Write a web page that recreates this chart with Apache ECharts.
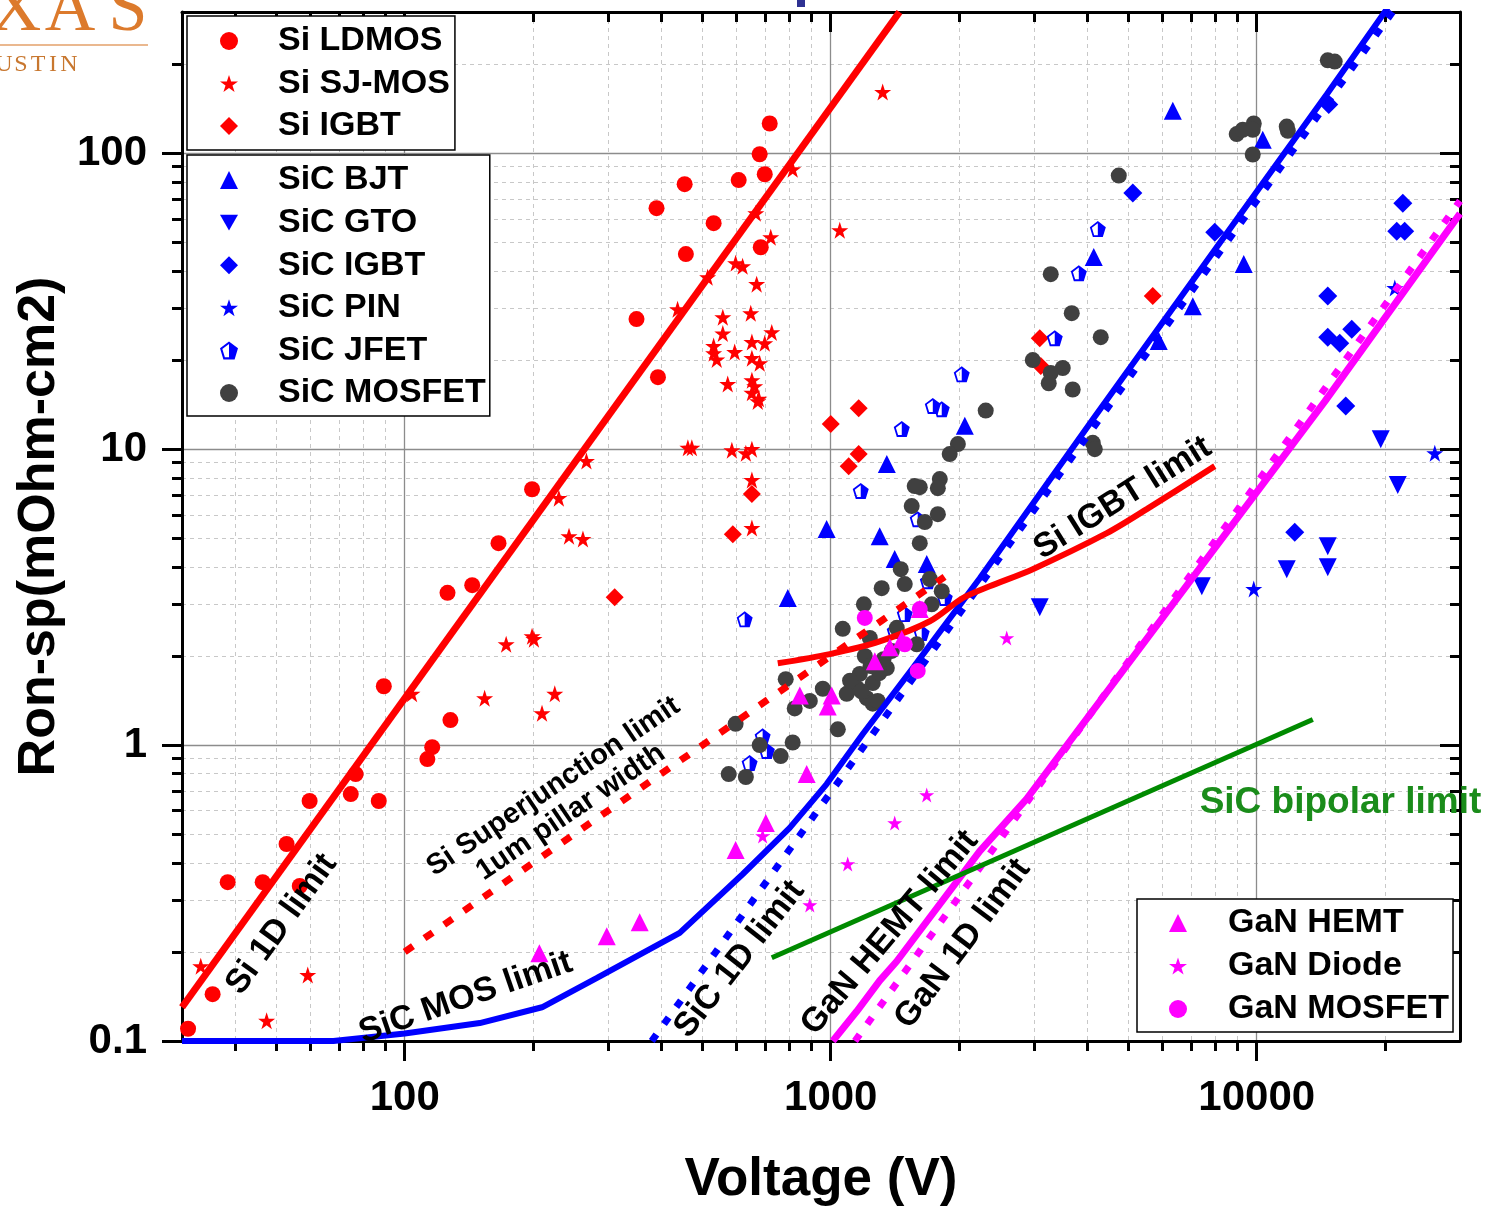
<!DOCTYPE html>
<html>
<head>
<meta charset="utf-8">
<title>Ron-sp vs breakdown voltage</title>
<script src="https://cdn.jsdelivr.net/npm/echarts@6/dist/echarts.min.js"></script>
<style>
html,body{margin:0;padding:0;background:#fff;}
#main{width:1488px;height:1206px;}
</style>
</head>
<body>
<div id="main"></div>
<script>
// axis ranges / ticks
var X_MIN = 30, X_MAX = 30000;
var Y_MIN = 0.1, Y_MAX = 300;
var xMajor = [100, 1000, 10000];
var xMinor = [40, 50, 60, 70, 80, 90, 200, 300, 400, 500, 600, 700, 800, 900,
	2000, 3000, 4000, 5000, 6000, 7000, 8000, 9000, 20000];
var yMajor = [0.1, 1, 10, 100];
var yMinor = [0.2, 0.3, 0.4, 0.5, 0.6, 0.7, 0.8, 0.9, 2, 3, 4, 5, 6, 7, 8, 9,
	20, 30, 40, 50, 60, 70, 80, 90, 200];

// devices  [voltage V, Ron-sp mOhm-cm2]
var siLdmos = [[31,0.110],[35.4,0.144],[38.4,0.344],[46.4,0.344],[56.7,0.334],[52.8,0.463],[59.8,0.647],
	[74.7,0.683],[76.7,0.798],[86.9,0.647],[89.3,1.58],[113,0.897],[116,0.984],[128,1.215],[126,3.27],
	[144,3.47],[166,4.81],[199,7.32],[350,27.5],[393,17.5],[390,65.2],[457,45.6],[454,78.6],[531,58],
	[608,81.1],[681,99.2],[685,48.1],[700,84.9],[719,126]];
var siSjMos = [[33.2,0.179],[47.4,0.117],[59.2,0.167],[104,1.49],[154,1.44],[173,2.19],[199,2.33],[201,2.28],
	[225,1.49],[210,1.28],[230,6.83],[243,5.08],[262,4.97],[267,9.11],[437,29.7],[462,10.1],[472,10.1],
	[514,38.1],[531,22.3],[531,21.1],[540,20.1],[558,27.9],[558,24.6],[573,16.6],[586,9.92],[595,21.3],
	[598,42.5],[621,41.5],[632,9.69],[649,28.8],[653,23.0],[653,20.3],[653,17.1],[653,15.5],[653,10.0],
	[653,7.86],[653,5.41],[663,16.3],[667,62.7],[670,36.1],[674,14.5],[678,14.8],[681,19.5],[700,22.8],
	[723,52.0],[727,24.8],[814,88.3],[1050,54.9],[1324,161]];
var siIgbt = [[311,3.16],[589,5.16],[653,7.05],[1000,12.15],[1163,13.75],[1102,8.76],[1163,9.62],
	[3095,23.7],[3112,19.1],[5700,32.9]];
var sicBjt = [[6352,139],[10330,111],[4143,44.6],[9322,42.2],[7077,30.4],[5888,23.2],[978,5.37],
	[793,3.14],[1354,8.9],[1303,5.08],[1413,4.25],[1680,4.09],[2064,12.0]];
var sicGto = [[19550,10.8],[21430,7.56],[11760,3.93],[14680,4.70],[14680,3.99],[7430,3.44],[3095,2.92]];
var sicIgbt = [[5117,73.3],[7970,54.1],[14760,146],[14680,32.9],[16710,25.4],[14680,23.9],[15660,22.8],
	[16180,14.0],[22020,67.8],[21310,54.5],[22250,54.5],[12280,5.24]];
var sicPin = [[26180,9.69],[9840,3.37],[21090,35.0]];
var sicJfet = [[4236,55.4],[3822,39.3],[3356,23.7],[2030,17.9],[1736,14.0],[1822,13.65],[1468,11.7],
	[1176,7.22],[1600,5.80],[1690,3.58],[1852,3.14],[1492,2.77],[1635,2.39],[1413,2.43],[628,2.66],
	[692,1.07],[708,0.955],[645,0.869]];
var sicMosfet = [[14680,206],[15240,204],[8974,116],[9272,120],[9840,126],[9786,120],[11760,123],
	[11830,119],[9786,99],[4744,84],[3284,39],[3679,28.8],[4303,23.9],[2980,20],[3504,18.8],[3284,18.1],
	[3249,16.7],[3698,15.9],[2311,13.5],[4122,10.5],[4167,10],[1988,10.4],[1902,9.62],[1803,7.92],
	[1784,7.38],[1618,7.44],[1574,7.5],[1549,6.42],[1784,6.03],[1663,5.67],[1618,4.81],[1460,3.93],
	[1492,3.5],[1317,3.39],[1708,3.64],[1822,3.31],[1726,2.99],[1196,2.99],[1067,2.47],[1235,2.3],
	[1429,2.49],[1592,2.19],[1202,2.0],[1391,2.08],[1354,1.82],[1170,1.74],[1255,1.62],[1151,1.56],
	[1090,1.49],[958,1.55],[893,1.41],[823,1.33],[784,1.67],[1215,1.44],[1255,1.38],[1289,1.41],
	[1039,1.13],[814,1.02],[763,0.918],[681,1.0],[598,1.18],[576,0.798],[632,0.78],
	[1300,1.75],[1110,1.65],[1180,1.52],[1330,1.95],[1240,1.85]];
var ganHemt = [[207,0.198],[298,0.226],[356,0.252],[598,0.442],[704,0.545],[846,1.47],[1005,1.47],
	[984,1.35],[878,0.798],[1269,1.92],[1376,2.14],[1468,2.28],[1618,2.88]];
var ganDiode = [[1680,0.678],[1413,0.545],[1096,0.396],[893,0.288],[692,0.493],[2589,2.30]];
var ganMosfet = [[1202,2.69],[1492,2.19],[1600,1.78],[1618,2.88]];

// theoretical limits
var si1dLimit = [[30,0.13],[1450,300]];
var siSjLimit = [[100,0.2],[1850,3.7]];
var sicMosLimit = [[30,0.1],[68,0.1],[100,0.106],[150,0.115],[210,0.13],[282,0.163],[442,0.232],
	[621,0.366],[801,0.525],[978,0.738],[1189,1.09],[1558,1.82],[2238,3.66],[4121,12.6],[14590,158],[20300,310]];
var sic1dLimit = [[380,0.1],[21000,305]];
var siIgbtLimit = [[751,1.89],[995,2.03],[1303,2.24],[1708,2.62],[2042,3.14],[2360,3.44],[2980,3.93],
	[4446,5.2],[5519,6.27],[7970,8.76]];
var ganHemtLimit = [[1011,0.1],[1151,0.126],[1303,0.16],[1429,0.186],[2238,0.438],[2884,0.658],
	[14450,14.5],[30000,62.5]];
var gan1dLimit = [[1140,0.1],[30000,69]];
var sicBipolarLimit = [[727,0.191],[13540,1.22]];

// limit labels: text, anchor [V, Ron], angle
var limitLabels = [
	['Si 1D limit', [51.4,0.248], 54],
	['Si Superjunction limit\n1um pillar width', [234,0.655], 34],
	['SiC MOS limit', [139,0.14], 19],
	['SiC 1D limit', [611,0.189], 52],
	['GaN HEMT limit', [1376,0.232], 50],
	['GaN 1D limit', [2042,0.213], 53],
	['Si IGBT limit', [4846,6.83], 32]
];

var FONT = '"Liberation Sans", Arial, Helvetica, sans-serif';
var RED = '#ff0000', BLUE = '#0000ff', MAG = '#ff00ff', GRAY = '#404040', GREEN = '#008a00';
var STAR = 'path://M50,0L61.8,35.3L99,35.3L68.9,57.1L80.4,92.7L50,70.6L19.6,92.7L31.1,57.1L1,35.3L38.2,35.3Z';
var PENTA = 'path://M50,0L100,38L81,100L19,100L0,38Z M50,14L13,42L27,88L73,88L87,42Z M50,14L87,42L73,88L50,88Z';
var DOWN = 'path://M0,0L100,0L50,86.6Z';

function scatter(name, data, symbol, size, color, z){
	return {
		name: name, type: 'scatter', data: data,
		symbol: symbol, symbolSize: size,
		itemStyle: {color: color, opacity: 1},
		z: z, silent: true
	};
}
function limit(data, color, width, dash, smooth){
	return {
		type: 'line', data: data, symbol: 'none', showSymbol: false,
		smooth: smooth || false, silent: true, z: 3,
		lineStyle: {color: color, width: width, type: dash || 'solid', cap: 'butt'}
	};
}

function xAxis(position, ticks, len, inside, major){
	return {
		type: 'log', logBase: 10, min: X_MIN, max: X_MAX, position: position,
		axisLine: {show: major, onZero: false, lineStyle: {color: '#000', width: 3}},
		axisTick: {show: true, inside: inside, length: len, customValues: ticks,
			lineStyle: {color: '#000', width: 3}},
		axisLabel: {show: false},
		splitLine: {show: false},
		minorTick: {show: false}
	};
}
function yAxis(position, ticks, len, inside, major){
	return {
		type: 'log', logBase: 10, min: Y_MIN, max: Y_MAX, position: position,
		axisLine: {show: major, onZero: false, lineStyle: {color: '#000', width: 3}},
		axisTick: {show: true, inside: inside, length: len, customValues: ticks,
			lineStyle: {color: '#000', width: 3}},
		axisLabel: {show: false},
		splitLine: {show: false},
		minorTick: {show: false}
	};
}

var xs = [xAxis('bottom', xMajor, 20, false, true), xAxis('bottom', xMinor, 10, false, false),
	xAxis('top', xMajor, 20, true, true), xAxis('top', xMinor, 10, true, false)];
var ys = [yAxis('left', yMajor, 20, false, true), yAxis('left', yMinor, 10, false, false),
	yAxis('right', yMajor, 20, true, true), yAxis('right', yMinor, 10, true, false)];

xs[0].axisLabel = {show: true, customValues: xMajor, margin: 36, color: '#000',
	fontFamily: FONT, fontSize: 42, fontWeight: 'bold',
	formatter: function(v){ return String(Math.round(v)); }};
xs[0].splitLine = {show: true, lineStyle: {color: '#8c8c8c', width: 1.3}};
xs[1].splitLine = {show: true, lineStyle: {color: '#c8c8c8', width: 1, type: [4, 4]}};
xs[0].name = 'Voltage (V)';
xs[0].nameLocation = 'middle';
xs[0].nameGap = 113;
xs[0].nameTextStyle = {color: '#000', fontFamily: FONT, fontSize: 53, fontWeight: 'bold'};

ys[0].axisLabel = {show: true, customValues: yMajor, margin: 35, color: '#000',
	fontFamily: FONT, fontSize: 42, fontWeight: 'bold',
	formatter: function(v){ return String(+v.toPrecision(6)); }};
ys[0].splitLine = {show: true, lineStyle: {color: '#8c8c8c', width: 1.3}};
ys[1].splitLine = {show: true, lineStyle: {color: '#c8c8c8', width: 1, type: [4, 4]}};
ys[0].name = 'Ron-sp(mOhm-cm2)';
ys[0].nameLocation = 'middle';
ys[0].nameGap = 114;
ys[0].nameTextStyle = {color: '#000', fontFamily: FONT, fontSize: 52, fontWeight: 'bold'};

function legendBox(names, left, top, gap, padding, textPad){
	return {
		data: names, orient: 'vertical', left: left, top: top,
		itemWidth: 18, itemHeight: 18, itemGap: gap, padding: padding,
		borderColor: '#000', borderWidth: 1.5, backgroundColor: '#fff',
		selectedMode: false, z: 6,
		textStyle: {color: '#000', fontFamily: FONT, fontSize: 34, fontWeight: 'bold',
			lineHeight: 34, padding: [0, 0, 0, textPad]}
	};
}

var option = {
	animation: false,
	backgroundColor: '#fff',
	grid: {left: 182, right: 28, top: 12, bottom: 165, containLabel: false, outerBoundsMode: 'none'},
	xAxis: xs,
	yAxis: ys,
	legend: [
		legendBox(['Si LDMOS', 'Si SJ-MOS', 'Si IGBT'], 187, 16, 8.5, [8, 5, 7, 33], 35),
		legendBox(['SiC BJT', 'SiC GTO', 'SiC IGBT', 'SiC PIN', 'SiC JFET', 'SiC MOSFET'], 187, 155, 8.6, [8, 4, 6, 33], 35),
		legendBox(['GaN HEMT', 'GaN Diode', 'GaN MOSFET'], 1137, 899, 9, [7, 4, 6, 32], 36)
	],
	series: [
		scatter('Si LDMOS', siLdmos, 'circle', 16, RED, 2),
		scatter('Si SJ-MOS', siSjMos, STAR, 17, RED, 2),
		scatter('Si IGBT', siIgbt, 'diamond', 18, RED, 2),
		scatter('SiC BJT', sicBjt, 'triangle', 18, BLUE, 2),
		scatter('SiC GTO', sicGto, DOWN, 18, BLUE, 2),
		scatter('SiC IGBT', sicIgbt, 'diamond', 19, BLUE, 2),
		scatter('SiC PIN', sicPin, STAR, 17, BLUE, 2),
		scatter('SiC JFET', sicJfet, PENTA, 16, BLUE, 2),
		scatter('SiC MOSFET', sicMosfet, 'circle', 16, GRAY, 2),
		limit(si1dLimit, RED, 7),
		limit(siSjLimit, RED, 7, [10, 14]),
		limit(sicMosLimit, BLUE, 6),
		limit(sic1dLimit, BLUE, 7, [8, 13]),
		limit(siIgbtLimit, RED, 6, 'solid', 0.3),
		limit(ganHemtLimit, MAG, 7),
		limit(gan1dLimit, MAG, 7, [8, 13]),
		limit(sicBipolarLimit, GREEN, 5),
		scatter('GaN HEMT', ganHemt, 'triangle', 18, MAG, 4),
		scatter('GaN Diode', ganDiode, STAR, 15, MAG, 4),
		scatter('GaN MOSFET', ganMosfet, 'circle', 16, MAG, 4)
	]
};

var chart = echarts.init(document.getElementById('main'), null, {renderer: 'canvas'});
chart.setOption(option);

// annotations placed from data coordinates
var gfx = [];
limitLabels.forEach(function(l){
	var p = chart.convertToPixel({xAxisIndex: 0, yAxisIndex: 0}, l[1]);
	var two = l[0].indexOf('\n') >= 0;
	gfx.push({
		type: 'text', x: p[0], y: p[1], rotation: l[2] * Math.PI / 180, z: 10,
		style: {text: l[0], fill: '#000', fontFamily: FONT, fontWeight: 'bold',
			fontSize: two ? 29 : 34, lineHeight: two ? 31 : 36,
			align: 'center', verticalAlign: 'middle', textAlign: 'center', textVerticalAlign: 'middle'}
	});
});
var bp = chart.convertToPixel({xAxisIndex: 0, yAxisIndex: 0}, [7345, 0.647]);
gfx.push({
	type: 'text', x: bp[0], y: bp[1] + 2, z: 10,
	style: {text: 'SiC bipolar limit', fill: '#1a8c1a', fontFamily: FONT, fontWeight: 'bold', fontSize: 37,
		align: 'left', verticalAlign: 'middle', textAlign: 'left', textVerticalAlign: 'middle'}
});
// university logo fragment, top-left corner
var logoColor = '#dc7a2c';
[['X', 16], ['A', 70], ['S', 128]].forEach(function(c){
	gfx.push({type: 'text', x: c[1], y: 47, z: 10,
		style: {text: c[0], fill: logoColor, fontFamily: '"Liberation Serif", "DejaVu Serif", serif', fontSize: 70,
			align: 'center', verticalAlign: 'bottom', textAlign: 'center', textVerticalAlign: 'bottom'}});
});
[['U', 4], ['S', 21], ['T', 38], ['I', 53], ['N', 69]].forEach(function(c){
	gfx.push({type: 'text', x: c[1], y: 77, z: 10,
		style: {text: c[0], fill: '#c8772f', fontFamily: '"Liberation Serif", "DejaVu Serif", serif', fontSize: 24,
			align: 'center', verticalAlign: 'bottom', textAlign: 'center', textVerticalAlign: 'bottom'}});
});
gfx.push({type: 'line', z: 10, shape: {x1: 0, y1: 45, x2: 148, y2: 45},
	style: {stroke: '#e3a06a', lineWidth: 1.5}});
gfx.push({type: 'rect', z: 10, shape: {x: 797, y: 0, width: 8, height: 7}, style: {fill: '#2e3192'}});

chart.setOption({graphic: gfx});
</script>
</body>
</html>
